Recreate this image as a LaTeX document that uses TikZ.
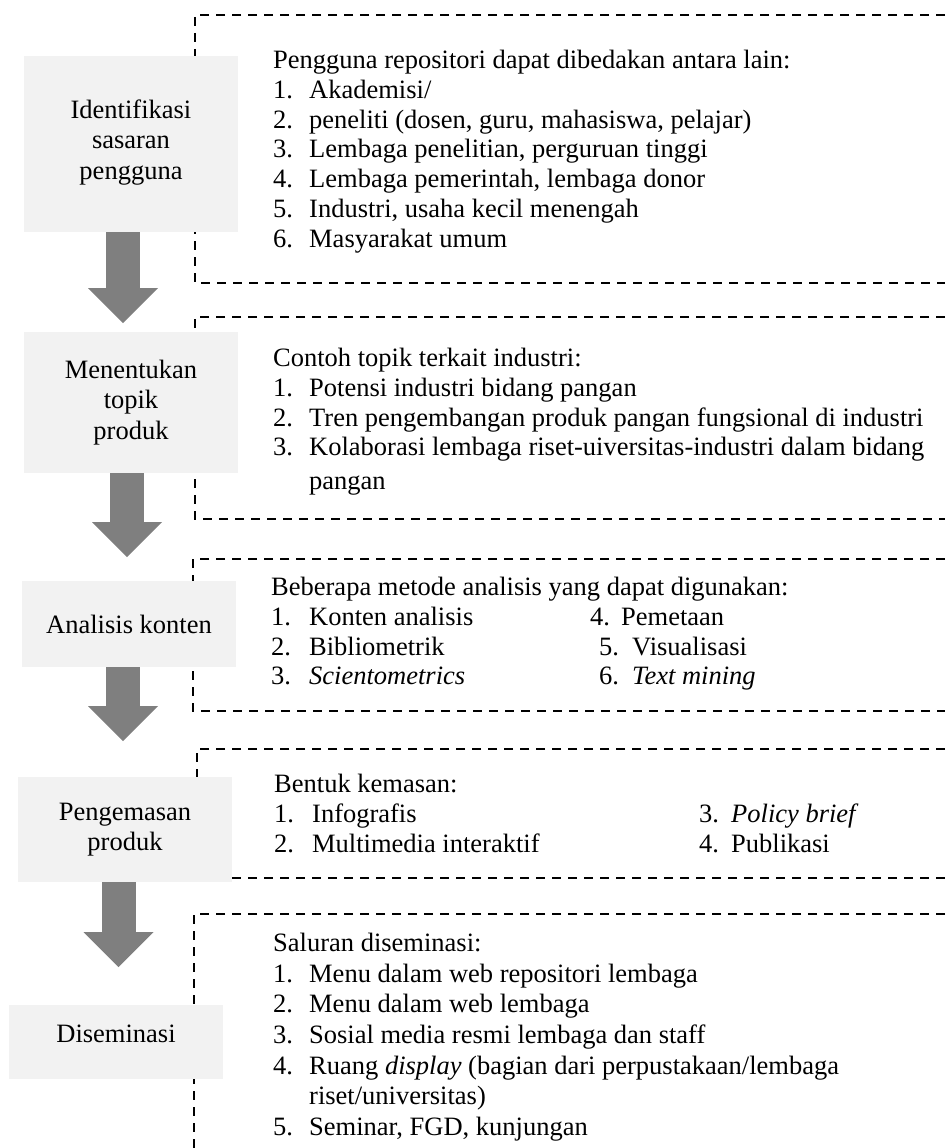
\documentclass[tikz,border=0pt]{standalone}
\usepackage{fontspec}
\setmainfont{Liberation Serif}
\usepackage{tikz}
\usetikzlibrary{arrows.meta,positioning,calc}
\definecolor{StepFill}{HTML}{F2F2F2}
\definecolor{ArrowGray}{HTML}{7F7F7F}
\newcommand{\numitem}[3][36pt]{\makebox[#1][l]{#2}#3}
\tikzset{
  stepbox/.style={fill=StepFill,minimum width=214pt,align=center,inner sep=0pt,text=black,font=\fontsize{26.5}{30.5}\selectfont},
  infotext/.style={anchor=north west,align=left,inner sep=0pt,text=black},
  frame/.style={draw=black,line width=1.8pt,dash pattern=on 9pt off 7pt},
  bigarrow/.style={draw=ArrowGray,line width=34pt,-{Triangle[width=70pt,length=35pt,line width=0pt]}}
}

\begin{document}
\begin{tikzpicture}[x=1pt,y=1pt,font=\fontsize{26.5}{29.8}\selectfont]
  \useasboundingbox (0,0) rectangle (945,-1148);
  \draw[frame] (945,-15) -| (195,-283) -- (945,-283);
  \draw[frame] (945,-317) -| (195,-519) -- (945,-519);
  \draw[frame] (945,-559) -| (193,-711) -- (945,-711);
  \draw[frame] (945,-749) -| (197,-878) -- (945,-878);
  \draw[frame] (945,-914) -| (194,-1148);
  \node[stepbox,minimum height=176pt,text depth=9pt] (s1) at (131,-144) {Identifikasi\\sasaran\\pengguna};
  \node[stepbox,minimum height=141pt] (s2) at (131,-402.5) {Menentukan\\topik\\produk};
  \node[stepbox,minimum height=86pt] (s3) at (129,-624) {Analisis konten};
  \node[stepbox,minimum height=105pt] (s4) at (125,-829.5) {Pengemasan\\produk};
  \node[stepbox,minimum height=74pt,text depth=16.5pt] (s5) at (116,-1042) {Diseminasi};
  \coordinate (t1) at (123,-323); \coordinate (t2) at (127,-557);
  \coordinate (t3) at (123,-741); \coordinate (t4) at (118.5,-967);
  \draw[bigarrow] (s1.south -| t1) -- (t1); \draw[bigarrow] (s2.south -| t2) -- (t2);
  \draw[bigarrow] (s3.south -| t3) -- (t3); \draw[bigarrow] (s4.south -| t4) -- (t4);
  \node[infotext] (users) at (273,-50) {Pengguna repositori dapat dibedakan antara lain:\\
    \numitem{1.}{Akademisi/}\\
    \numitem{2.}{peneliti (dosen, guru, mahasiswa, pelajar)}\\
    \numitem{3.}{Lembaga penelitian, perguruan tinggi}\\
    \numitem{4.}{Lembaga pemerintah, lembaga donor}\\
    \numitem{5.}{Industri, usaha kecil menengah}\\
    \numitem{6.}{Masyarakat umum}};
  \node[infotext] (topics) at (273,-348) {Contoh topik terkait industri:\\
    \numitem{1.}{Potensi industri bidang pangan}\\
    \numitem{2.}{Tren pengembangan produk pangan fungsional di industri}\\
    \numitem{3.}{Kolaborasi lembaga riset-uiversitas-industri dalam bidang}\\[4pt]
    \hspace*{36pt}pangan};
  \node[infotext] (methods) at (271,-577) {Beberapa metode analisis yang dapat digunakan:\\
    \makebox[319pt][l]{\numitem[38pt]{1.}{Konten analisis}}\numitem[31pt]{4.}{Pemetaan}\\
    \makebox[328pt][l]{\numitem[38pt]{2.}{Bibliometrik}}\numitem[33pt]{5.}{Visualisasi}\\
    \makebox[328pt][l]{\numitem[38pt]{3.}{\textit{Scientometrics}}}\numitem[33pt]{6.}{\textit{Text mining}}};
  \node[infotext] (formats) at (274,-774) {Bentuk kemasan:\\
    \makebox[425pt][l]{\numitem[38pt]{1.}{Infografis}}\numitem[32pt]{3.}{\textit{Policy brief}}\\
    \makebox[425pt][l]{\numitem[38pt]{2.}{Multimedia interaktif}}\numitem[32pt]{4.}{Publikasi}};
  \node[infotext,font=\fontsize{26.5}{30.6}\selectfont] (channels) at (273,-933) {Saluran diseminasi:\\
    \numitem{1.}{Menu dalam web repositori lembaga}\\
    \numitem{2.}{Menu dalam web lembaga}\\
    \numitem{3.}{Sosial media resmi lembaga dan staff}\\
    \numitem{4.}{Ruang \textit{display} (bagian dari perpustakaan/lembaga}\\
    \hspace*{36pt}riset/universitas)\\
    \numitem{5.}{Seminar, FGD, kunjungan}};
\end{tikzpicture}
\end{document}
